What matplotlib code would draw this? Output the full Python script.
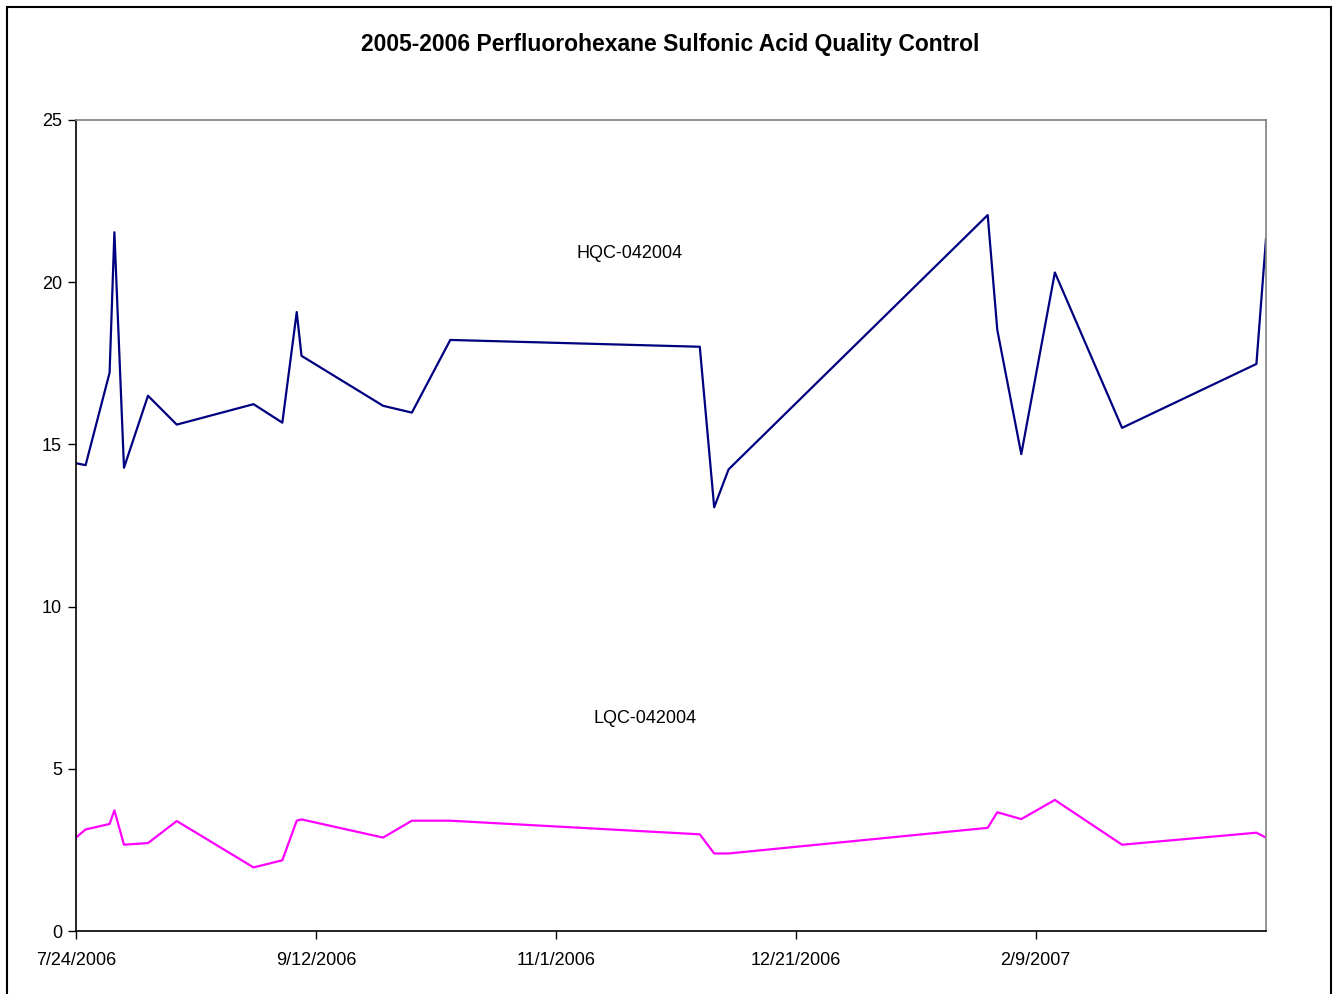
import numpy as np
import pandas as pd
import matplotlib
matplotlib.use("Agg")
import matplotlib.pyplot as plt
from matplotlib.patches import Rectangle

# sample dates
dates = pd.to_datetime([
    "2006-07-24", "2006-07-26", "2006-07-31", "2006-08-01", "2006-08-03",
    "2006-08-08", "2006-08-14", "2006-08-30", "2006-09-05", "2006-09-08",
    "2006-09-09", "2006-09-26", "2006-10-02", "2006-10-10", "2006-12-01",
    "2006-12-04", "2006-12-07", "2007-01-30", "2007-02-01", "2007-02-06",
    "2007-02-13", "2007-02-27", "2007-03-27", "2007-03-29",
])

hqc = [14.42, 14.36, 17.21, 21.54, 14.28, 16.50, 15.61, 16.24, 15.67, 19.08,
       17.73, 16.19, 15.98, 18.22, 18.01, 13.06, 14.23, 22.07, 18.53, 14.70,
       20.30, 15.51, 17.48, 21.33]

lqc = [2.88, 3.13, 3.30, 3.72, 2.66, 2.71, 3.39, 1.96, 2.18, 3.40,
       3.44, 2.88, 3.40, 3.40, 2.98, 2.39, 2.39, 3.18, 3.66, 3.45,
       4.04, 2.66, 3.03, 2.88]

tick_dates = pd.to_datetime(["2006-07-24", "2006-09-12", "2006-11-01",
                             "2006-12-21", "2007-02-09"])
tick_labels = ["7/24/2006", "9/12/2006", "11/1/2006", "12/21/2006", "2/9/2007"]

title = "2005-2006 Perfluorohexane Sulfonic Acid Quality Control"

plt.rcParams['font.family'] = ['Liberation Sans', 'DejaVu Sans']

fig = plt.figure(figsize=(13.39, 9.94), dpi=100)
ax = fig.add_axes([76 / 1339, 1 - 931 / 994, 1190 / 1339, 811 / 994])

ax.plot(dates, hqc, color='#000080', linewidth=1.6)
ax.plot(dates, lqc, color='#ff00ff', linewidth=1.6)

ax.set_xlim(dates[0], dates[-1])
ax.set_ylim(0, 25)
ax.set_yticks([0, 5, 10, 15, 20, 25])
ax.set_xticks(tick_dates)
ax.set_xticklabels(tick_labels)
ax.tick_params(axis='both', labelsize=13, length=6, width=1, color='black', pad=4)
ax.tick_params(axis='x', pad=9)

ax.spines['left'].set_color('black')
ax.spines['bottom'].set_color('black')
ax.spines['top'].set_color('#808080')
ax.spines['right'].set_color('#808080')
for s in ax.spines.values():
    s.set_linewidth(1.2)

ax.text(0.4655, 0.836, "HQC-042004", transform=ax.transAxes, fontsize=13,
        ha='center', va='center')
ax.text(0.4786, 0.2626, "LQC-042004", transform=ax.transAxes, fontsize=13,
        ha='center', va='center')

fig.text(670 / 1339, 1 - 45 / 994, title, fontsize=16.5, fontweight='bold',
         ha='center', va='center')

# outer chart border
fig.patches.append(Rectangle((7 / 1339, -0.05), 1324 / 1339, 1.05 - 7 / 994,
                             transform=fig.transFigure, fill=False,
                             edgecolor='black', linewidth=1.5))

fig.savefig("out.png", dpi=100)
